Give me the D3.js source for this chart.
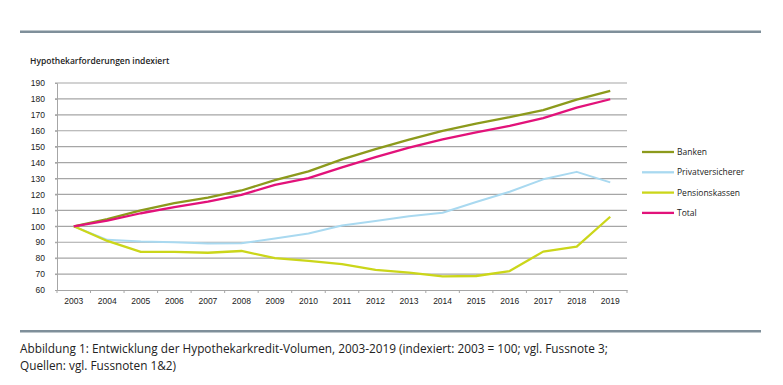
<!DOCTYPE html>
<html>
<head>
<meta charset="utf-8">
<script src="https://cdn.jsdelivr.net/npm/d3@7"></script>
<style>
  body { margin: 0; background: #fff; }
  svg { display: block; font-family: "Open Sans", "Noto Sans", sans-serif; }
</style>
</head>
<body>
<script>
// Data
var years = ["2003", "2004", "2005", "2006", "2007", "2008", "2009", "2010", "2011",
             "2012", "2013", "2014", "2015", "2016", "2017", "2018", "2019"];
var banken = [100, 104.5, 110, 114.5, 118, 122.5, 129, 134.5, 142, 148.5, 154.5, 160, 164.5, 168.5, 173, 179.5, 185];
var privatversicherer = [100, 91.5, 90.5, 90, 89.2, 89.3, 92.3, 95.5, 100.5, 103.3, 106.3, 108.5, 115.3, 121.7, 129.5, 134.2, 127.6];
var pensionskassen = [100, 90.8, 84, 84, 83.4, 84.5, 80, 78.3, 76.3, 72.6, 70.9, 68.5, 68.8, 71.9, 84.1, 87.2, 106];
var total = [100, 103.5, 108.2, 112, 115.5, 119.7, 126, 130.3, 137, 143.4, 149.4, 154.6, 159, 163, 168, 174.5, 179.8];
var yTicks = [60, 70, 80, 90, 100, 110, 120, 130, 140, 150, 160, 170, 180, 190];

var series = [
  {name: "Banken", values: banken, color: "#8c9a1c"},
  {name: "Privatversicherer", values: privatversicherer, color: "#a9d9f0"},
  {name: "Pensionskassen", values: pensionskassen, color: "#cbd61a"},
  {name: "Total", values: total, color: "#e2127a"}
];

var W = 783, H = 385;
var svg = d3.select("body").append("svg")
    .attr("width", W)
    .attr("height", H);

// Top and bottom rules
svg.append("rect").attr("x", 20).attr("y", 30.5).attr("width", 741).attr("height", 2.5).attr("fill", "#7f8f9a");
svg.append("rect").attr("x", 20).attr("y", 330).attr("width", 741).attr("height", 2.5).attr("fill", "#7f8f9a");

// Axis title
svg.append("text")
    .attr("x", 30)
    .attr("y", 64)
    .style("font-size", "8.5px")
    .style("font-weight", "600")
    .attr("fill", "#222")
    .text("Hypothekarforderungen indexiert");

// Scales
var x = d3.scaleBand().domain(years).range([57, 627]);
var y = d3.scaleLinear().domain([60, 190]).range([290, 83]);

// Gridlines
svg.append("g").selectAll("line")
    .data(yTicks.slice(1))
    .enter().append("line")
    .attr("x1", 55).attr("x2", 627)
    .attr("y1", function(d) { return y(d); })
    .attr("y2", function(d) { return y(d); })
    .attr("stroke", "#a6a6a6")
    .attr("stroke-width", 1.2);

// Y axis
var yAxis = svg.append("g")
    .attr("transform", "translate(57,0)")
    .call(d3.axisLeft(y).tickValues(yTicks).tickSize(2).tickPadding(10));
yAxis.select(".domain").attr("stroke", "#a6a6a6");
yAxis.selectAll(".tick line").attr("stroke", "#a6a6a6");
yAxis.selectAll("text").style("font-size", "8.5px").attr("fill", "#222");

// X axis
var xAxis = svg.append("g")
    .attr("transform", "translate(0,290)")
    .call(d3.axisBottom(x).tickSize(0).tickPadding(8));
xAxis.select(".domain").attr("stroke", "#a6a6a6").attr("stroke-width", 1.2);
xAxis.selectAll("text").style("font-size", "8.5px").attr("fill", "#222");

// Tick marks at band boundaries
svg.append("g").selectAll("line")
    .data(years.concat(["end"]))
    .enter().append("line")
    .attr("x1", function(d, i) { return i < years.length ? x(d) : x.range()[1]; })
    .attr("x2", function(d, i) { return i < years.length ? x(d) : x.range()[1]; })
    .attr("y1", 290).attr("y2", 293)
    .attr("stroke", "#a6a6a6");

// Lines
var line = d3.line()
    .x(function(d, i) { return x(years[i]) + x.bandwidth() / 2; })
    .y(function(d) { return y(d); });

svg.append("g").selectAll("path")
    .data(series)
    .enter().append("path")
    .attr("d", function(d) { return line(d.values); })
    .attr("fill", "none")
    .attr("stroke", function(d) { return d.color; })
    .attr("stroke-width", function(d) { return d.name == "Privatversicherer" ? 2 : 2.3; })
    .attr("stroke-linejoin", "round");

// Legend
var legend = svg.selectAll(".legend")
    .data(series)
    .enter().append("g")
    .attr("class", "legend")
    .attr("transform", function(d, i) { return "translate(642," + (152 + i * 20.3) + ")"; });

legend.append("line")
    .attr("x1", 0).attr("x2", 32)
    .attr("stroke", function(d) { return d.color; })
    .attr("stroke-width", 2.3);

legend.append("text")
    .attr("x", 35)
    .attr("dy", "0.35em")
    .style("font-size", "8.5px")
    .attr("fill", "#222")
    .text(function(d) { return d.name; });

// Caption
var caption = svg.append("text")
    .attr("x", 20)
    .style("font-size", "11.8px")
    .attr("fill", "#222");
caption.append("tspan").attr("x", 20).attr("y", 353)
    .text("Abbildung 1: Entwicklung der Hypothekarkredit-Volumen, 2003-2019 (indexiert: 2003 = 100; vgl. Fussnote 3;");
caption.append("tspan").attr("x", 20).attr("y", 370)
    .text("Quellen: vgl. Fussnoten 1&2)");
</script>
</body>
</html>
